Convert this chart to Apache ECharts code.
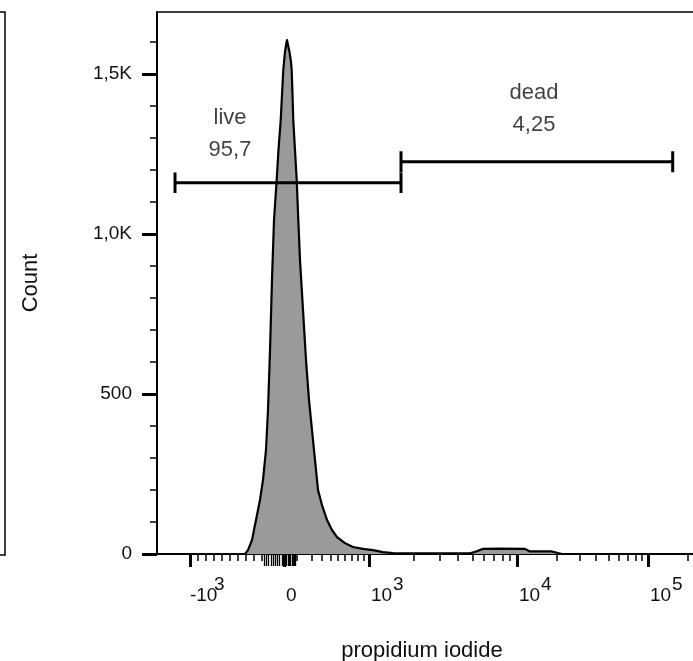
<!DOCTYPE html>
<html><head><meta charset="utf-8">
<script src="https://cdn.jsdelivr.net/npm/echarts@6/dist/echarts.min.js"></script>
<style>html,body{margin:0;padding:0;background:#fff}#c{width:693px;height:661px}</style>
</head><body><div id="c"></div>
<script>
// Histogram: x in display channel units (0-1000) of the biexponential axis, y = count
const histChannel = [161.2,166.7,174.0,181.3,188.6,194.1,199.6,203.3,207.0,210.6,214.3,219.2,222.5,226.6,228.9,231.3,234.4,236.6,238.1,239.9,242.7,245.4,246.7,248.2,249.6,252.7,255.9,258.8,261.9,267.4,272.9,278.4,285.7,291.2,294.9,302.2,311.4,320.5,329.7,344.3,359.0,377.3,395.6,413.9,432.2,500.0,573.3,584.2,597.1,628.2,674.0,683.1,723.4,734.4,741.8];
const histCount = [0,12,44,106,169,231,325,450,638,856,1044,1169,1263,1356,1434,1513,1569,1594,1606,1600,1569,1538,1513,1434,1356,1263,1169,1044,919,763,606,481,356,263,200,153,106,75,53,34,22,16,12,6,3,2,2,8,16,17,16,8,8,3,0];

// Biexponential scale anchors: fluorescence value -> display channel
const biexValues = [-1000, -100, 0, 100, 1000, 10000, 100000, 262144];
const biexUnits = [60.4, 192.3, 232.6, 256.4, 388.3, 659.3, 899.3, 1000];

const xMajorValues = [-1000, 0, 1000, 10000, 100000];
const xMajorBase = ['-10', '0', '10', '10', '10'];
const xMajorExp = ['3', '', '3', '4', '5'];
const xMinorValues = [-900,-800,-700,-600,-500,-400,-300,-200,-100,100,200,300,400,500,600,700,800,900,2000,3000,4000,5000,6000,7000,8000,9000,20000,30000,40000,50000,60000,70000,80000,90000,200000];
const xNearZeroValues = [-90,-80,-70,-60,-50,-40,-30,-20,-10,10,20,30,40,50,60,70,80,90];

const yMajorValues = [0, 500, 1000, 1500];
const yMajorLabels = ['0', '500', '1,0K', '1,5K'];
const yMinorValues = [100,200,300,400,600,700,800,900,1100,1200,1300,1400,1600];

const gateNames = ['live', 'dead'];
const gatePercents = ['95,7', '4,25'];
const gateStart = [33.0, 446.9];
const gateEnd = [446.9, 944.5];
const gateLevel = [1160, 1226];
const gateCap = [32, 33];
const gateLabelX = [133.7, 690.5];
const gateLabelY = [1312, 1391];

function biex(v) {
  const n = biexValues.length;
  let i = 0;
  while (i < n - 2 && v > biexValues[i + 1]) i++;
  const v0 = biexValues[i], v1 = biexValues[i + 1], u0 = biexUnits[i], u1 = biexUnits[i + 1];
  const lin = (v - v0) / (v1 - v0);
  if (v0 > 0) {
    const lg = Math.log10(v / v0) / Math.log10(v1 / v0);
    const t = v0 < 1000 ? 0.5 * lin + 0.5 * lg : lg;
    return u0 + t * (u1 - u0);
  }
  return u0 + lin * (u1 - u0);
}

const FONT = 'Liberation Sans, Arial, sans-serif';
const TXT = '#111';
const majorPos = xMajorValues.map(biex);
const expPos = majorPos.filter((p, i) => xMajorExp[i] !== '');

function nearestMajor(val) {
  let best = 0, bd = Infinity;
  majorPos.forEach((p, i) => { const d = Math.abs(p - val); if (d < bd) { bd = d; best = i; } });
  return best;
}
function xBaseLabel(val) {
  const i = nearestMajor(val);
  return xMajorBase[i].charAt(0) === '-' ? '{m|' + xMajorBase[i] + '}' : '{b|' + xMajorBase[i] + '}';
}
function xExpLabel(val) { return xMajorExp[nearestMajor(val)]; }
function yLabel(val) {
  const i = yMajorValues.indexOf(Math.round(val));
  return i >= 0 ? yMajorLabels[i] : '';
}

const histData = histChannel.map((c, i) => [c, histCount[i]]);

const series = [{
  type: 'line', xAxisIndex: 0, yAxisIndex: 0, data: histData,
  symbol: 'none', smooth: false,
  lineStyle: { color: '#000', width: 2.2, join: 'round' },
  areaStyle: { color: '#9a9a9a', opacity: 1 },
  z: 2, silent: true
}];
gateNames.forEach((g, i) => {
  const x1 = gateStart[i], x2 = gateEnd[i], y = gateLevel[i], c = gateCap[i];
  series.push({
    type: 'line', xAxisIndex: 0, yAxisIndex: 0, symbol: 'none', z: 5, silent: true,
    lineStyle: { color: '#000', width: 3 },
    data: [[x1, y - c], [x1, y + c], [x1, y], [x2, y], [x2, y + c], [x2, y - c]]
  });
});
series.push({
  type: 'scatter', xAxisIndex: 0, yAxisIndex: 0, symbolSize: 0, z: 6, silent: true,
  data: gateNames.map((g, i) => ({ value: [gateLabelX[i], gateLabelY[i]], name: g + '\n' + gatePercents[i] })),
  label: { show: true, position: 'inside', formatter: p => p.name, fontSize: 22, lineHeight: 32, color: TXT, fontFamily: FONT }
});

const commonX = { type: 'value', min: 0, max: 1000, gridIndex: 0, position: 'bottom', splitLine: { show: false } };
const commonY = { type: 'value', min: 0, max: 1694, gridIndex: 0, position: 'left', splitLine: { show: false } };

const option = {
  animation: false,
  backgroundColor: '#fff',
  textStyle: { fontFamily: FONT },
  grid: [
    { left: 157, top: 12, right: -10, bottom: 107, show: true, borderColor: '#000', borderWidth: 1.5, outerBoundsMode: 'none' },
    { left: -200, top: 12, width: 205, height: 543, show: true, borderColor: '#000', borderWidth: 1.5, outerBoundsMode: 'none' }
  ],
  xAxis: [
    Object.assign({}, commonX, {
      axisLine: { show: true, onZero: false, lineStyle: { color: '#000', width: 2 } },
      axisTick: { show: true, customValues: majorPos, length: 13, lineStyle: { color: '#000', width: 3 } },
      axisLabel: {
        show: true, customValues: majorPos, formatter: xBaseLabel, align: 'left', margin: 32, color: TXT,
        fontSize: 19, fontFamily: FONT,
        rich: {
          b: { fontSize: 19, color: TXT, fontFamily: FONT, padding: [0, 0, 0, 2] },
          m: { fontSize: 19, color: TXT, fontFamily: FONT }
        }
      },
      name: 'propidium iodide', nameLocation: 'middle', nameGap: 86,
      nameTextStyle: { fontSize: 22, color: TXT, fontFamily: FONT, padding: [0, 16, 0, 0] }
    }),
    Object.assign({}, commonX, {
      axisLine: { show: false, onZero: false },
      axisTick: { show: true, customValues: xMinorValues.map(biex), length: 7, lineStyle: { color: '#000', width: 1.5 } },
      axisLabel: { show: false }
    }),
    Object.assign({}, commonX, {
      axisLine: { show: false, onZero: false },
      axisTick: { show: true, customValues: xNearZeroValues.map(biex), length: 12, lineStyle: { color: '#000', width: 1.3 } },
      axisLabel: { show: false }
    }),
    Object.assign({}, commonX, {
      axisLine: { show: false, onZero: false },
      axisTick: { show: false },
      axisLabel: {
        show: true, customValues: expPos, formatter: xExpLabel, align: 'left', margin: 21, color: TXT,
        fontSize: 19, fontFamily: FONT, padding: [0, 0, 0, 24]
      }
    }),
    { type: 'value', gridIndex: 1, show: false, min: 0, max: 1 }
  ],
  yAxis: [
    Object.assign({}, commonY, {
      axisLine: { show: true, onZero: false, lineStyle: { color: '#000', width: 2 } },
      axisTick: { show: true, customValues: yMajorValues, length: 15, lineStyle: { color: '#000', width: 3 } },
      axisLabel: { show: true, customValues: yMajorValues, formatter: yLabel, margin: 25, fontSize: 19, color: TXT, fontFamily: FONT },
      name: 'Count', nameLocation: 'middle', nameGap: 115,
      nameTextStyle: { fontSize: 22, color: TXT, fontFamily: FONT }
    }),
    Object.assign({}, commonY, {
      axisLine: { show: false, onZero: false },
      axisTick: { show: true, customValues: yMinorValues, length: 7, lineStyle: { color: '#000', width: 1.5 } },
      axisLabel: { show: false }
    }),
    { type: 'value', gridIndex: 1, show: false, min: 0, max: 1 }
  ],
  series: series
};

const chart = echarts.init(document.getElementById('c'), null, { renderer: 'canvas' });
chart.setOption(option);
</script>
</body></html>
